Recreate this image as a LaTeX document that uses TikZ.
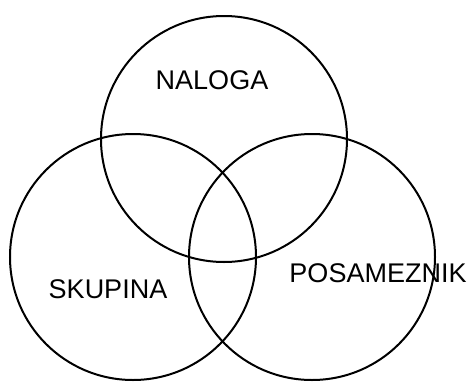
\documentclass[tikz,border=0pt]{standalone}
\usepackage{fontspec}
\setmainfont{Liberation Sans}

\begin{document}
\begin{tikzpicture}[x=1pt, y=-1pt, every node/.style={font=\fontsize{27}{30}\selectfont},
  set/.style={circle, draw, line width=2pt, inner sep=0pt, minimum size=246pt}]
  \useasboundingbox (0,0) rectangle (469,383);
  % Three overlapping sets
  \node[set] (naloga) at (224,139) {};
  \node[set] (skupina) at (133,257) {};
  \node[set] (posameznik) at (312,257) {};

  % Set labels
  \node (lnaloga) at (212,80) {NALOGA};
  \node (lskupina) at (108,289) {SKUPINA};
  \node (lposameznik) at (378,273) {POSAMEZNIK};
\end{tikzpicture}
\end{document}
